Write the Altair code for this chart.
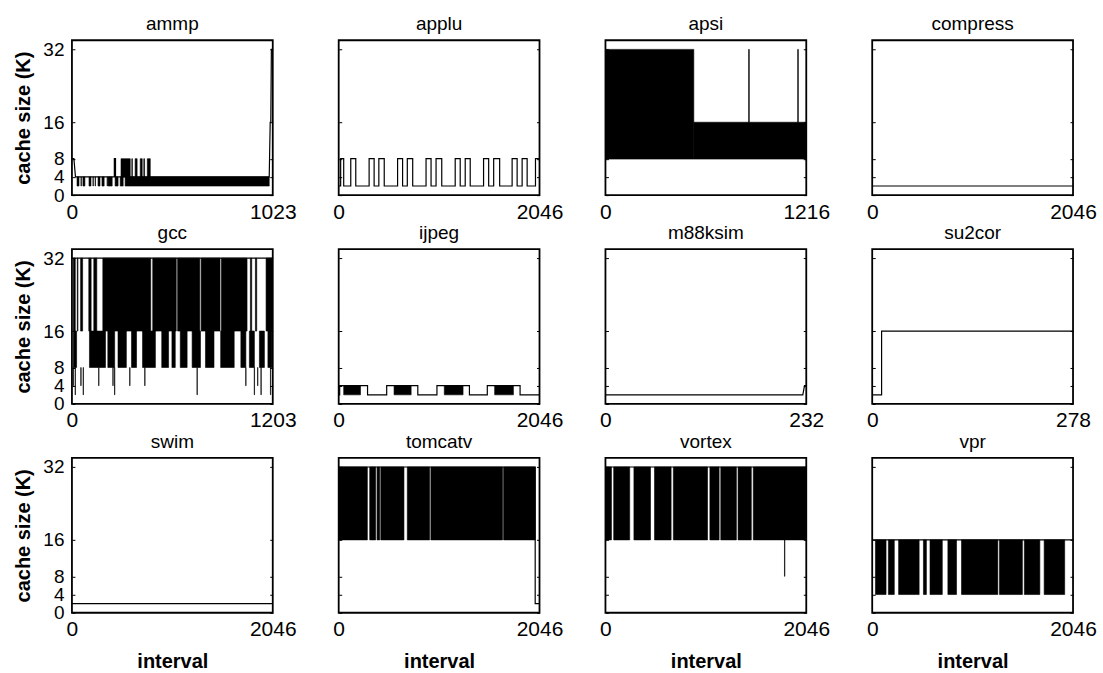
import altair as alt
import pandas as pd

FONT = "Liberation Sans"

names = ["ammp", "applu", "apsi", "compress", "gcc", "ijpeg",
         "m88ksim", "su2cor", "swim", "tomcatv", "vortex", "vpr"]
x_max = [1023, 2046, 1216, 2046, 1203, 2046, 232, 278, 2046, 2046, 2046, 2046]
y_ticks = [0, 4, 8, 16, 32]
y_top = 34

# ---- step-line traces (interval, cache size K) ----
ammp_line_x = [0, 10, 18, 216, 216, 222, 222, 1005, 1010, 1013, 1016, 1023]
ammp_line_y = [8, 8, 4, 4, 8, 8, 4, 4, 16, 16, 32, 32]

applu_line_x = [0, 20, 20, 51, 51, 123, 123, 174, 174, 310, 310, 361, 361, 409, 409,
                464, 464, 600, 600, 651, 651, 699, 699, 754, 754, 890, 890, 941, 941,
                992, 992, 1050, 1050, 1187, 1187, 1238, 1238, 1289, 1289, 1340, 1340,
                1476, 1476, 1528, 1528, 1579, 1579, 1640, 1640, 1767, 1767, 1818, 1818,
                1869, 1869, 1920, 1920, 2005, 2005, 2046]
applu_line_y = [2, 2, 8, 8, 2, 2, 8, 8, 2, 2, 8, 8, 2, 2, 8,
                8, 2, 2, 8, 8, 2, 2, 8, 8, 2, 2, 8, 8, 2,
                2, 8, 8, 2, 2, 8, 8, 2, 2, 8, 8, 2,
                2, 8, 8, 2, 2, 8, 8, 2, 2, 8, 8, 2,
                2, 8, 8, 2, 2, 8, 8]

apsi_line_x = [0, 1216]
apsi_line_y = [8, 8]

compress_line_x = [0, 2046]
compress_line_y = [2, 2]

gcc_line_x = [0, 1203]
gcc_line_y = [32, 32]

ijpeg_line_x = [0, 10, 10, 294, 294, 489, 489, 806, 806, 1001, 1001, 1332, 1332,
                1514, 1514, 1848, 1848, 2046]
ijpeg_line_y = [2, 2, 4, 4, 2, 2, 4, 4, 2, 2, 4, 4, 2, 2, 4, 4, 2, 2]

m88ksim_line_x = [0, 228, 230, 232]
m88ksim_line_y = [2, 2, 4, 4]

su2cor_line_x = [0, 13, 13, 278]
su2cor_line_y = [2, 2, 16, 16]

swim_line_x = [0, 2046]
swim_line_y = [2, 2]

tomcatv_line_x = [0, 2002, 2002, 2046]
tomcatv_line_y = [32, 32, 2, 2]

vortex_line_x = [0, 2046]
vortex_line_y = [32, 32]

vpr_line_x = [0, 2046]
vpr_line_y = [16, 16]

# ---- dense oscillation regions: (from, to, low K, high K) ----
ammp_bands = [(26, 36, 2, 4), (46, 48, 2, 4), (56, 66, 2, 4), (87, 97, 2, 4),
              (107, 109, 2, 4), (118, 120, 2, 4), (133, 143, 2, 4), (153, 164, 2, 4),
              (179, 181, 2, 4), (184, 205, 2, 4), (220, 235, 2, 4), (246, 261, 2, 4),
              (271, 1005, 2, 4),
              (250, 297, 4, 8), (305, 308, 4, 8), (322, 332, 4, 8), (348, 358, 4, 8),
              (366, 370, 4, 8), (384, 399, 4, 8)]
applu_bands = []
apsi_bands = [(0, 535, 8, 32), (535, 1216, 8, 16), (867, 871, 16, 32), (1164, 1168, 16, 32)]
compress_bands = []
gcc_bands = [(8, 20, 16, 32), (32, 36, 16, 32), (52, 64, 16, 32), (101, 115, 16, 32),
             (131, 149, 16, 32), (185, 472, 16, 32), (484, 625, 16, 32), (633, 766, 16, 32),
             (774, 887, 16, 32), (895, 1049, 16, 32), (1069, 1077, 16, 32),
             (1099, 1107, 16, 32), (1163, 1203, 16, 32),
             (8, 28, 8, 16), (105, 201, 8, 16), (215, 256, 8, 16), (276, 326, 8, 16),
             (357, 387, 8, 16), (423, 500, 8, 16), (538, 579, 8, 16), (599, 619, 8, 16),
             (649, 690, 8, 16), (720, 770, 8, 16), (800, 851, 8, 16), (891, 972, 8, 16),
             (1012, 1042, 8, 16), (1063, 1093, 8, 16), (1123, 1153, 8, 16),
             (1174, 1198, 8, 16),
             (7, 9, 4, 8), (19, 21, 2, 8), (53, 55, 4, 8), (67, 69, 2, 8), (160, 162, 4, 8),
             (245, 247, 4, 8), (255, 257, 2, 8), (346, 348, 4, 8), (436, 438, 4, 8),
             (749, 751, 2, 8), (1041, 1043, 4, 8), (1092, 1094, 2, 8), (1112, 1114, 4, 8),
             (1132, 1134, 2, 8), (1189, 1191, 2, 8)]
ijpeg_bands = [(51, 222, 2, 4), (564, 738, 2, 4), (1076, 1267, 2, 4), (1589, 1780, 2, 4)]
m88ksim_bands = []
su2cor_bands = []
swim_bands = []
tomcatv_bands = [(0, 292, 16, 32), (316, 377, 16, 32), (391, 418, 16, 32), (429, 665, 16, 32),
                 (699, 926, 16, 32), (939, 1669, 16, 32), (1680, 2002, 16, 32)]
vortex_bands = [(0, 61, 16, 32), (84, 247, 16, 32), (290, 459, 16, 32), (500, 669, 16, 32),
                (692, 1040, 16, 32), (1064, 1158, 16, 32), (1175, 1334, 16, 32),
                (1351, 1486, 16, 32), (1506, 2046, 16, 32), (1824, 1828, 8, 16)]
vpr_bands = [(33, 141, 4, 16), (165, 225, 4, 16), (269, 478, 4, 16), (522, 552, 4, 16),
             (589, 714, 4, 16), (771, 859, 4, 16), (910, 1280, 4, 16), (1297, 1530, 4, 16),
             (1550, 1708, 4, 16), (1752, 1961, 4, 16)]

lines_x = {"ammp": ammp_line_x, "applu": applu_line_x, "apsi": apsi_line_x,
           "compress": compress_line_x, "gcc": gcc_line_x, "ijpeg": ijpeg_line_x,
           "m88ksim": m88ksim_line_x, "su2cor": su2cor_line_x, "swim": swim_line_x,
           "tomcatv": tomcatv_line_x, "vortex": vortex_line_x, "vpr": vpr_line_x}
lines_y = {"ammp": ammp_line_y, "applu": applu_line_y, "apsi": apsi_line_y,
           "compress": compress_line_y, "gcc": gcc_line_y, "ijpeg": ijpeg_line_y,
           "m88ksim": m88ksim_line_y, "su2cor": su2cor_line_y, "swim": swim_line_y,
           "tomcatv": tomcatv_line_y, "vortex": vortex_line_y, "vpr": vpr_line_y}
bands = {"ammp": ammp_bands, "applu": applu_bands, "apsi": apsi_bands,
         "compress": compress_bands, "gcc": gcc_bands, "ijpeg": ijpeg_bands,
         "m88ksim": m88ksim_bands, "su2cor": su2cor_bands, "swim": swim_bands,
         "tomcatv": tomcatv_bands, "vortex": vortex_bands, "vpr": vpr_bands}

W, H = 201, 155


def panel(i):
    name = names[i]
    xm = x_max[i]
    col, row = i % 4, i // 4
    line_df = pd.DataFrame({"x": lines_x[name], "y": lines_y[name]})
    line_df["i"] = range(len(line_df))

    xaxis_kw = dict(values=[0, xm], labelFlush=False, ticks=False, domain=False,
                    grid=False, labelFontSize=21, labelPadding=6, labelFont=FONT,
                    format="d", labelColor="black", labelOverlap=False)
    if row == 2:
        xaxis_kw.update(title="interval", titleFontSize=20, titleFontWeight="bold",
                        titleFont=FONT, titlePadding=12, titleColor="black")
    else:
        xaxis_kw.update(title="")
    yaxis_kw = dict(values=y_ticks, ticks=False, domain=False, grid=True,
                    gridDash=[3, W - 6, 3], gridColor="black", gridOpacity=1,
                    gridWidth=1, labelOverlap=False)
    if col == 0:
        yaxis_kw.update(labelFontSize=19, labelPadding=8, labelFont=FONT,
                        labelColor="black", title="cache size (K)", titleFontSize=20,
                        titleFontWeight="bold", titleFont=FONT, titlePadding=9,
                        titleColor="black")
    else:
        yaxis_kw.update(labels=False, title="")

    xs = alt.Scale(domain=[0, xm], nice=False, zero=False)
    ys = alt.Scale(domain=[0, y_top], nice=False)

    line = alt.Chart(line_df).mark_line(color="black", strokeWidth=1.2, clip=True).encode(
        x=alt.X("x:Q", scale=xs, axis=alt.Axis(**xaxis_kw)),
        y=alt.Y("y:Q", scale=ys, axis=alt.Axis(**yaxis_kw)),
        order=alt.Order("i:Q"),
    )
    layers = []
    b = bands[name]
    if b:
        band_df = pd.DataFrame(b, columns=["x0", "x1", "lo", "hi"])
        rect = alt.Chart(band_df).mark_rect(color="black", stroke="black",
                                            strokeWidth=0.6, clip=True).encode(
            x=alt.X("x0:Q", scale=xs, axis=alt.Axis(**xaxis_kw)),
            x2="x1:Q",
            y=alt.Y("lo:Q", scale=ys, axis=alt.Axis(**yaxis_kw)),
            y2="hi:Q",
        )
        layers.append(rect)
    layers.append(line)
    return alt.layer(*layers).properties(
        width=W, height=H,
        title=alt.TitleParams(name, fontSize=19, fontWeight="normal", font=FONT,
                              color="black", offset=6, frame="group", anchor="middle"),
    )


chart = alt.concat(*[panel(i) for i in range(12)], columns=4,
                   spacing={"row": 54, "column": 66}, bounds="flush").properties(
    padding={"left": 12, "top": 14, "right": 5, "bottom": 5},
    background="white",
).configure_view(stroke="black", strokeWidth=1.8)

chart.save("out.html", embed_options={"renderer": "svg", "actions": False})
